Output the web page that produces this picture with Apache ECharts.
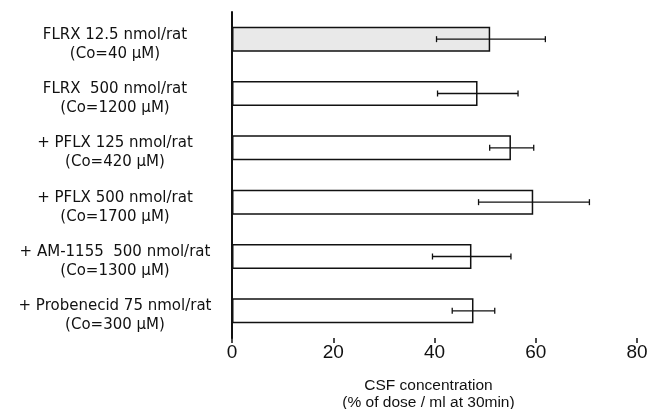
<!DOCTYPE html>
<html>
<head>
<meta charset="utf-8">
<script src="https://cdn.jsdelivr.net/npm/echarts@6/dist/echarts.min.js"></script>
<style>
  html, body { margin: 0; padding: 0; background: #fff; }
  #chart { width: 649px; height: 409px; }
</style>
</head>
<body>
<div id="chart"></div>
<script>
  // 数据：各组 CSF 浓度（均值）及误差线上下限
  const groups = [
    'FLRX 12.5 nmol/rat\n(Co=40 μM)',
    'FLRX  500 nmol/rat\n(Co=1200 μM)',
    '+ PFLX 125 nmol/rat\n(Co=420 μM)',
    '+ PFLX 500 nmol/rat\n(Co=1700 μM)',
    '+ AM-1155  500 nmol/rat\n(Co=1300 μM)',
    '+ Probenecid 75 nmol/rat\n(Co=300 μM)'
  ];
  const means = [51.0, 48.5, 55.1, 59.5, 47.3, 47.7];
  const errLow = [40.4, 40.6, 50.9, 48.7, 39.6, 43.5];
  const errHigh = [61.9, 56.5, 59.6, 70.6, 55.1, 51.9];
  const xTicks = [0, 20, 40, 60, 80];

  const INK = '#111';
  const chart = echarts.init(document.getElementById('chart'), null, { renderer: 'canvas' });

  chart.setOption({
    backgroundColor: '#fff',
    animation: false,
    grid: { left: 232, right: 12, top: 12, bottom: 71, containLabel: false, outerBoundsMode: 'none' },
    xAxis: {
      type: 'value',
      min: xTicks[0],
      max: xTicks[xTicks.length - 1],
      interval: 20,
      name: 'CSF concentration\n(% of dose / ml at 30min)',
      nameLocation: 'middle',
      nameGap: 39,
      nameTextStyle: { color: INK, fontFamily: 'Liberation Sans', fontSize: 15.5, lineHeight: 17, padding: [0, 12, 0, 0] },
      axisLine: { lineStyle: { color: INK, width: 2 } },
      axisTick: { show: true, length: 5, lineStyle: { color: INK, width: 1.5 } },
      axisLabel: { color: INK, fontFamily: 'Liberation Sans', fontSize: 19, margin: 5 },
      splitLine: { show: false }
    },
    yAxis: {
      type: 'category',
      data: groups,
      inverse: true,
      axisLine: { lineStyle: { color: INK, width: 2 } },
      axisTick: { show: false },
      axisLabel: {
        align: 'center', margin: 117,
        // 顶部留一行空白，让两行文字整体下移
        formatter: v => '{s| }\n' + v.split('\n').map(t => '{t|' + t + '}').join('\n'),
        rich: {
          s: { fontSize: 1, lineHeight: 10 },
          t: { color: INK, fontFamily: 'DejaVu Sans', fontSize: 15, lineHeight: 19 }
        }
      }
    },
    series: [
      {
        type: 'bar',
        data: means.map((v, i) => ({
          value: v,
          itemStyle: { color: i === 0 ? '#e9e9e9' : '#fff' }
        })),
        barWidth: 25,
        itemStyle: { borderColor: INK, borderWidth: 1.5 }
      },
      {
        type: 'custom',
        data: errLow.map((lo, i) => [lo, errHigh[i], i]),
        encode: { x: [0, 1], y: 2 },
        z: 5,
        renderItem: function (params, api) {
          const i = api.value(2);
          const p1 = api.coord([api.value(0), i]);
          const p2 = api.coord([api.value(1), i]);
          const h = 3;
          const style = { stroke: INK, lineWidth: 1.3 };
          return {
            type: 'group',
            children: [
              { type: 'line', shape: { x1: p1[0], y1: p1[1], x2: p2[0], y2: p2[1] }, style },
              { type: 'line', shape: { x1: p1[0], y1: p1[1] - h, x2: p1[0], y2: p1[1] + h }, style },
              { type: 'line', shape: { x1: p2[0], y1: p2[1] - h, x2: p2[0], y2: p2[1] + h }, style }
            ]
          };
        }
      }
    ]
  });
</script>
</body>
</html>
